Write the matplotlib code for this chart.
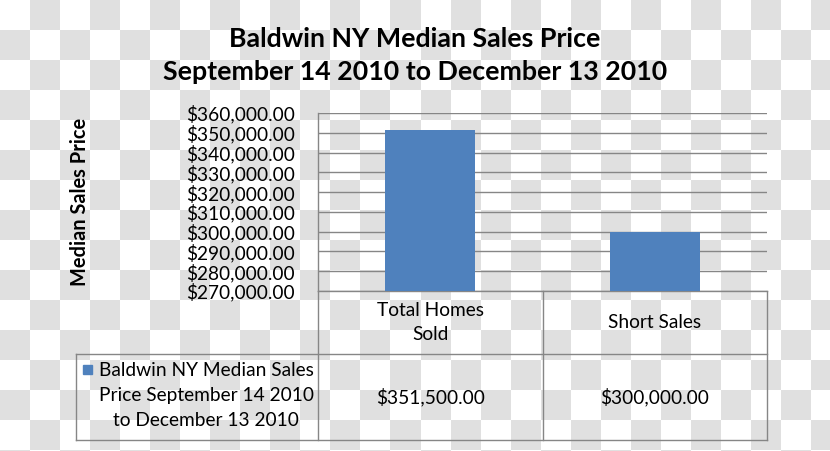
import numpy as np
import matplotlib
matplotlib.use("Agg")
import matplotlib.pyplot as plt

plt.rcParams['font.family'] = ['Lato', 'DejaVu Sans']

# ---- data ----
categories = ["Total Homes\nSold", "Short Sales"]
values = [351500, 300000]
value_labels = ["$351,500.00", "$300,000.00"]
series_name = "Baldwin NY Median Sales\nPrice September 14 2010\nto December 13 2010"
title = "Baldwin NY Median Sales Price\nSeptember 14 2010 to December 13 2010"
y_label = "Median Sales Price"
y_min, y_max, y_step = 270000, 360000, 10000

W, H = 830, 451
FS = 13.8
fig = plt.figure(figsize=(W / 100, H / 100), dpi=100)

# background checkerboard (transparency pattern) + pixel-coordinate overlay
bg = fig.add_axes([0, 0, 1, 1])
yy, xx = np.mgrid[0:H, 0:W]
checker = ((xx // 30 + yy // 30) % 2).astype(float)
img = np.where(checker[..., None] > 0, np.array([0.882, 0.882, 0.882]), np.array([1.0, 1.0, 1.0]))
bg.imshow(img, extent=(0, W, H, 0), interpolation='nearest', aspect='auto')
bg.set_xlim(0, W)
bg.set_ylim(H, 0)
bg.axis('off')

# plot area in pixels
L, R, T, B = 318, 767, 113, 291
ax = fig.add_axes([L / W, 1 - B / H, (R - L) / W, (B - T) / H])
ax.patch.set_alpha(0)
x = np.arange(len(values))
ax.bar(x, values, width=0.4, color='#4f81bd', zorder=3)
ax.set_xlim(-0.5, len(values) - 0.5)
ax.set_ylim(y_min, y_max)
ticks = np.arange(y_min, y_max + 1, y_step)
ax.set_yticks(ticks)
ax.set_yticklabels([f"${t:,.2f}" for t in ticks], fontsize=FS)
ax.set_xticks([])
ax.tick_params(axis='y', length=0, pad=16.5)
ax.grid(axis='y', color='#868686', lw=1, zorder=0)
for s in ['top', 'right']:
    ax.spines[s].set_visible(False)
for s in ['left', 'bottom']:
    ax.spines[s].set_color('#868686')
    ax.spines[s].set_linewidth(1)

fig.text(80 / W, 1 - 202 / H, y_label, rotation=90, ha='center', va='center',
         fontsize=14.4, fontweight='bold')

fig.text(415 / W, 1 - 55.5 / H, title, ha='center', va='center', fontsize=19.3,
         fontweight='bold', linespacing=1.46)

# data table
lc = '#868686'
TL, TB, MID = 76, 440, 354
colx = [L, (L + R) / 2, R]
bg.plot([L, L], [B, TB], color=lc, lw=1)
bg.plot([colx[1], colx[1]], [B, TB], color=lc, lw=1)
bg.plot([R, R], [B, TB], color=lc, lw=1)
bg.plot([TL, R], [MID, MID], color=lc, lw=1)
bg.plot([TL, R], [TB, TB], color=lc, lw=1)
bg.plot([TL, TL], [MID, TB], color=lc, lw=1)

centers = [L + (R - L) * (i + 0.5) / len(values) for i in range(len(values))]
for cx, cat, vl in zip(centers, categories, value_labels):
    bg.text(cx, (B + MID) / 2, cat, ha='center', va='center', fontsize=FS, linespacing=1.48)
    bg.text(cx, (MID + TB) / 2, vl, ha='center', va='center', fontsize=FS)

bg.add_patch(plt.Rectangle((83, 365), 9, 9, color='#4f81bd'))
bg.text(206, 395.5, series_name, ha='center', va='center', fontsize=FS, linespacing=1.58)

fig.savefig("out.png", dpi=100)
